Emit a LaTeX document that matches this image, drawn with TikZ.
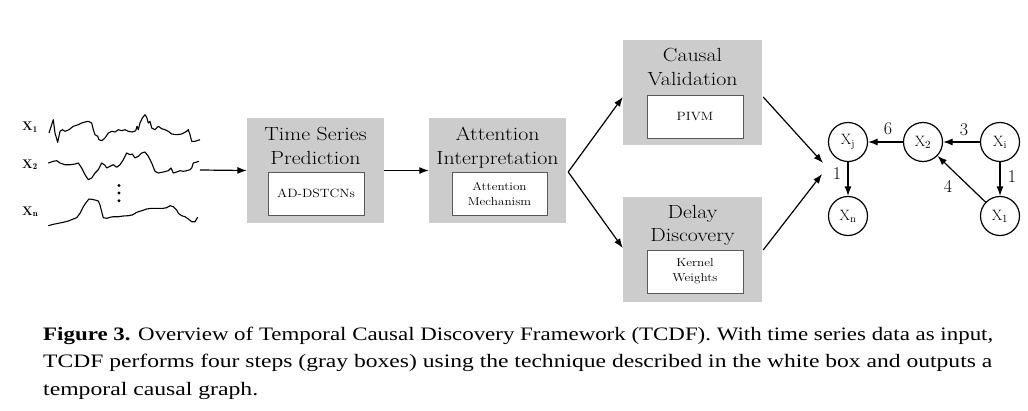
\documentclass[tikz,border=0pt]{standalone}
\usepackage{graphicx}
\usepackage{fontspec}
\newfontfamily\capfont{Liberation Serif}
\usetikzlibrary{arrows.meta,calc}
\newcommand{\hs}[1]{\scalebox{1.15}[1]{#1}}
\begin{document}
\begin{tikzpicture}[x=1pt,y=-1pt,
  graybox/.style={fill=black!20, draw=none, minimum width=137pt, minimum height=105pt, inner sep=0pt},
  whitebox/.style={fill=white, draw=black!65, line width=0.9pt, minimum width=96pt, minimum height=43pt, inner sep=0pt},
  title/.style={anchor=base, font=\fontsize{19}{23}\selectfont, inner sep=0pt},
  tech/.style={anchor=base, font=\fontsize{12}{14}\selectfont, inner sep=0pt},
  techs/.style={anchor=base, font=\fontsize{11.5}{13}\selectfont, inner sep=0pt},
  flow/.style={line width=1.2pt, -{Latex[length=9.5pt,width=7pt]}},
  series/.style={line width=1.1pt, line join=round},
  var/.style={circle, draw, line width=1.2pt, minimum size=39pt, inner sep=0pt, font=\fontsize{15}{17}\selectfont},
  wt/.style={font=\fontsize{18}{20}\selectfont, inner sep=0pt},
  lab/.style={anchor=base west, inner sep=0pt, font=\bfseries\fontsize{12.5}{15}\selectfont},
  capline/.style={anchor=base west, inner sep=0pt, font=\capfont\fontsize{19}{23}\selectfont},
  ]
\useasboundingbox (0,0) rectangle (1028,410);

% time series
\node[lab] (l1) at (22,130.7) {X$_\mathbf{1}$};
\node[lab] (l2) at (22,168) {X$_\mathbf{2}$};
\node[lab] (ln) at (22,215) {X$_\mathbf{n}$};
\draw[series] plot coordinates {(49,133) (53.3,119.7) (55,133) (57.7,142.3) (60,131.3) (62.3,129.7) (65,131.3) (69,129.7) (73.3,126.3) (78.3,124.7) (81.7,123) (85,122) (88.3,121.3) (91.7,123) (93.3,129.7) (95,134.7) (97.7,136.3) (99,139.7) (101.7,140.7) (105,138) (108.3,133) (111.7,131.3) (115,132) (118.3,129.7) (121.7,130.7) (125,129.7) (128.3,131.3) (132.3,132) (135.7,130.7) (137,126.3) (138.3,129.7) (140,123) (142.3,118) (145,114.7) (146.7,117.3) (148.3,123) (150,121.3) (151.7,128) (155,129.7) (158.3,126.3) (161.7,128.7) (165,129.7) (168.3,131.3) (171.7,134) (176.7,134.7) (181.7,134) (186.7,131.3) (188.3,129.7) (190,134.7) (191.7,141.3) (195,141.3) (200,139.7)};
\draw[series] plot coordinates {(48.3,163) (53.3,161.3) (56.7,160.7) (60,163) (65,164.7) (70,164.7) (75,164) (78.3,163) (81.7,168) (85,174.7) (88.3,179.7) (91.7,178) (95,173) (98.3,169.7) (101.7,163) (105,165.3) (106.7,168) (110,166.3) (113.3,164.7) (116.7,167.3) (120,164.7) (123.3,159.7) (126.7,153) (130,154.7) (132.3,154) (135,158) (138.3,156.3) (141.7,153) (145,152) (148.3,156.3) (151.7,163) (155,171.3) (158.3,173) (163.3,172) (168.3,170.7) (171,168) (173.3,173) (176.7,172) (180,170.7) (183.3,171.3) (186.7,170.7) (190,169.7) (191.7,168) (193.3,163) (196.7,162) (199,161.3)};
\draw[series] plot coordinates {(48.3,225.7) (53.3,224.3) (58.3,223.3) (63.3,222.3) (68.3,221) (73.3,219) (76.7,217.7) (80,213.3) (83.3,206.7) (86.7,201.7) (89,199) (91.7,199.3) (95,200) (98.3,201) (100,205) (101.7,211.7) (103.3,217.7) (106.7,218.3) (110,217.3) (113.3,216.7) (118.3,216.7) (123.3,216) (128.3,215.7) (132.3,215) (136.7,212.3) (141.7,210.7) (146.7,209) (151.7,208.3) (158.3,208.3) (163.3,208.3) (166.7,207.7) (170,205.7) (173.3,206.7) (176.7,210) (178.3,213.3) (181.7,215.7) (185,216.7) (188.3,219) (191.7,221.7) (195,221.7) (197.7,217.3)};
\fill (119,185.5) circle (1.6);
\fill (119,193) circle (1.6);
\fill (119,200.7) circle (1.6);
\coordinate (tsout) at (200,170);

% gray boxes
\node[graybox] (b1) at (315.5,170.5) {};
\node[graybox] (b2) at (497.5,170.5) {};
\node[graybox, minimum width=139pt] (b3) at (692.5,92.5) {};
\node[graybox, minimum width=139pt] (b4) at (692.5,249.5) {};
\node[whitebox] (w1) at (316,193.5) {};
\node[whitebox, minimum width=95pt] (w2) at (499.5,193.5) {};
\node[whitebox] (w3) at (695,116.5) {};
\node[whitebox] (w4) at (695,271.5) {};

\node[title] (t1a) at (315.5,140) {\hs{Time Series}};
\node[title] (t1b) at (315.5,164.3) {\hs{Prediction}};
\node[title] (t2a) at (497.5,140) {\hs{Attention}};
\node[title] (t2b) at (497.5,164.3) {\hs{Interpretation}};
\node[title] (t3a) at (692.5,61.7) {\hs{Causal}};
\node[title] (t3b) at (692.5,85) {\hs{Validation}};
\node[title] (t4a) at (692.5,218.3) {\hs{Delay}};
\node[title] (t4b) at (692.5,241.7) {\hs{Discovery}};

\node[tech] (m1) at (316,197.3) {\hs{AD-DSTCNs}};
\node[techs] (m2a) at (499.5,190) {\hs{Attention}};
\node[techs] (m2b) at (499.5,205) {\hs{Mechanism}};
\node[tech] (m3) at (695,120.7) {\hs{PIVM}};
\node[techs] (m4a) at (695,266.7) {\hs{Kernel}};
\node[techs] (m4b) at (695,281.5) {\hs{Weights}};

% causal graph
\node[var] (xj) at (848,142) {$\mathrm{X}_\mathrm{j}$};
\node[var] (x2) at (923,142) {$\mathrm{X}_2$};
\node[var] (xi) at (1000,142) {$\mathrm{X}_\mathrm{i}$};
\node[var] (xn) at (848,216) {$\mathrm{X}_\mathrm{n}$};
\node[var] (x1) at (1000,216) {$\mathrm{X}_1$};
\coordinate (gin1) at (823,163);
\coordinate (gin2) at (822,174);

% flow arrows
\draw[flow] (tsout) -- (b1.west);
\draw[flow] (b1.east) -- (b2.west);
\draw[flow] ($(b2.east)+(2,1.5)$) -- ($(b3.west)+(0,4.5)$);
\draw[flow] ($(b2.east)+(2,1.5)$) -- ($(b4.west)+(0,-1.5)$);
\draw[flow] ($(b3.east)+(1,4.5)$) -- (gin1);
\draw[flow] ($(b4.east)+(1,0.5)$) -- (gin2);

\draw[flow] (x2) -- (xj);
\draw[flow] (xi) -- (x2);
\draw[flow] (xj) -- (xn);
\draw[flow] (xi) -- (x1);
\draw[flow] (x1) -- (x2);
\node[wt] (e6) at (888,129) {6};
\node[wt] (e3) at (964,129.5) {3};
\node[wt] (e1a) at (837,174) {1};
\node[wt] (e1b) at (1012,177) {1};
\node[wt] (e4) at (948,186) {4};

% caption
\node[capline] (c1) at (43,340) {\resizebox{950pt}{\height}{\textbf{Figure 3.} Overview of Temporal Causal Discovery Framework (TCDF). With time series data as input,}};
\node[capline] (c2) at (43,367.7) {\resizebox{949pt}{\height}{TCDF performs four steps (gray boxes) using the technique described in the white box and outputs a}};
\node[capline] (c3) at (43,395) {\resizebox{215pt}{\height}{temporal causal graph.}};
\end{tikzpicture}
\end{document}
